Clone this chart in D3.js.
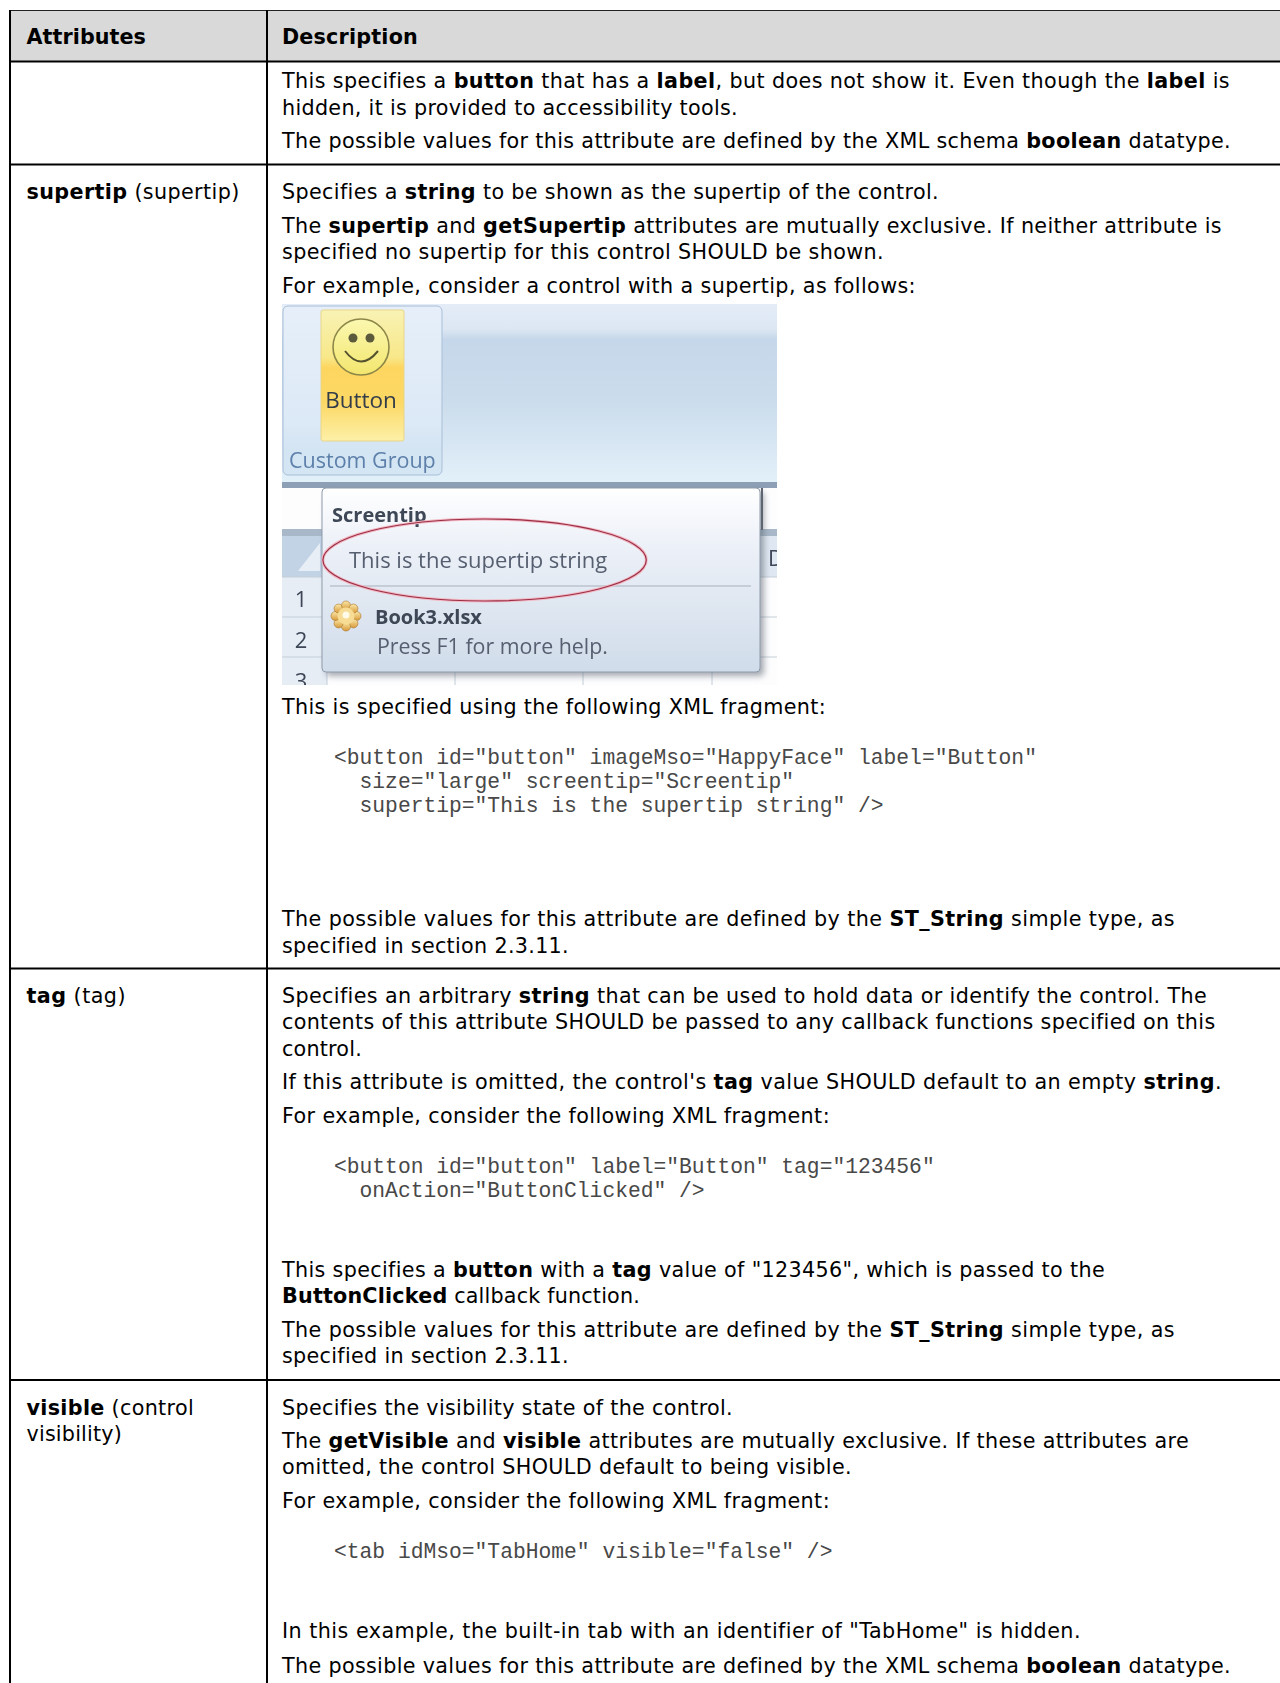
<!DOCTYPE html>
<html>
<head>
<meta charset="utf-8">
<title>Attributes table</title>
<script src="https://cdn.jsdelivr.net/npm/d3@7/dist/d3.min.js"></script>
<style>
  html, body { margin: 0; background: #fff; }
  svg { display: block; }
  text { white-space: pre; }
</style>
</head>
<body>
<div id="page"></div>
<script>
// table text, **x** means bold
const headers = ["**Attributes**", "**Description**"];
const attributeLines = [
  "**supertip** (supertip)",
  "**tag** (tag)",
  "**visible** (control",
  "visibility)"
];
const descriptionLines = [
  "This specifies a **button** that has a **label**, but does not show it. Even though the **label** is",
  "hidden, it is provided to accessibility tools.",
  "The possible values for this attribute are defined by the XML schema **boolean** datatype.",
  "Specifies a **string** to be shown as the supertip of the control.",
  "The **supertip** and **getSupertip** attributes are mutually exclusive. If neither attribute is",
  "specified no supertip for this control SHOULD be shown.",
  "For example, consider a control with a supertip, as follows:",
  "This is specified using the following XML fragment:",
  "The possible values for this attribute are defined by the **ST_String** simple type, as",
  "specified in section 2.3.11.",
  "Specifies an arbitrary **string** that can be used to hold data or identify the control. The",
  "contents of this attribute SHOULD be passed to any callback functions specified on this",
  "control.",
  "If this attribute is omitted, the control's **tag** value SHOULD default to an empty **string**.",
  "For example, consider the following XML fragment:",
  "This specifies a **button** with a **tag** value of \"123456\", which is passed to the",
  "**ButtonClicked** callback function.",
  "The possible values for this attribute are defined by the **ST_String** simple type, as",
  "specified in section 2.3.11.",
  "Specifies the visibility state of the control.",
  "The **getVisible** and **visible** attributes are mutually exclusive. If these attributes are",
  "omitted, the control SHOULD default to being visible.",
  "For example, consider the following XML fragment:",
  "In this example, the built-in tab with an identifier of \"TabHome\" is hidden.",
  "The possible values for this attribute are defined by the XML schema **boolean** datatype."
];
const codeLines = [
  "<button id=\"button\" imageMso=\"HappyFace\" label=\"Button\"",
  "  size=\"large\" screentip=\"Screentip\"",
  "  supertip=\"This is the supertip string\" />",
  "<button id=\"button\" label=\"Button\" tag=\"123456\"",
  "  onAction=\"ButtonClicked\" />",
  "<tab idMso=\"TabHome\" visible=\"false\" />"
];

// layout, kept apart from the text
const headerBase = [44, 44];
const headerEnd = [146, 418];
const attributeBase = [199, 1003, 1415, 1441];
const attributeEnd = [239.6, 126, 194, 122];
const descriptionBase = [88, 115, 148, 199, 233, 259, 293, 714, 926, 953, 1003, 1029, 1056, 1089, 1123, 1277, 1303, 1337, 1363, 1415, 1448, 1474, 1508, 1638, 1673];
const descriptionEnd = [1230, 738, 1231, 939, 1222, 884, 916, 826, 1175, 569, 1207, 1215.5, 362, 1222, 830, 1105, 640, 1175, 569, 733, 1189, 852, 830, 1081, 1231];
const codeBase = [764, 788, 812, 1173, 1197, 1558];
const rowRules = [61.5, 164.5, 968.5, 1380];

const width = 1280, height = 1683;
const leftX = 26.5, rightX = 282, codeX = 334;
const bodyFont = "'DejaVu Sans', Verdana, sans-serif";
const monoFont = "'Liberation Mono', monospace";

const svg = d3.select("#page").append("svg")
  .attr("width", width)
  .attr("height", height)
  .attr("viewBox", `0 0 ${width} ${height}`);

const defs = svg.append("defs");

function gradient(id, stops) {
  const g = defs.append("linearGradient").attr("id", id)
    .attr("x1", 0).attr("y1", 0).attr("x2", 0).attr("y2", 1);
  stops.forEach(s => g.append("stop").attr("offset", s[0]).attr("stop-color", s[1]));
}

// header band and rules
svg.append("rect").attr("x", 11).attr("y", 11).attr("width", width - 11).attr("height", 50).attr("fill", "#d9d9d9");

svg.append("line").attr("x1", 9).attr("x2", width).attr("y1", 10.5).attr("y2", 10.5)
  .attr("stroke", "#222").attr("stroke-width", 1);

svg.selectAll(".rule").data(rowRules).enter().append("line")
  .attr("class", "rule")
  .attr("x1", 10).attr("x2", width)
  .attr("y1", d => d).attr("y2", d => d)
  .attr("stroke", "#000").attr("stroke-width", 2);

svg.selectAll(".col").data([10, 267]).enter().append("line")
  .attr("class", "col")
  .attr("x1", d => d).attr("x2", d => d)
  .attr("y1", 10).attr("y2", height)
  .attr("stroke", "#000").attr("stroke-width", 2);

// splits **bold** runs into tspans, then spaces the line out to its measured end
function writeLines(group, lines, base, ends, x) {
  const y = d3.scaleOrdinal().domain(d3.range(lines.length)).range(base);
  const end = d3.scaleOrdinal().domain(d3.range(lines.length)).range(ends);
  group.selectAll("text").data(lines).enter().append("text")
    .attr("x", x)
    .attr("y", (d, i) => y(i))
    .attr("font-family", bodyFont)
    .attr("font-size", 20.7)
    .attr("fill", "#000")
    .each(function (d, i) {
      const t = d3.select(this);
      d.split("**").forEach((run, k) => {
        if (run === "") return;
        t.append("tspan").attr("font-weight", k % 2 ? "bold" : "normal").text(run);
      });
      const natural = this.getComputedTextLength();
      const chars = d.replace(/\*\*/g, "").length;
      t.attr("letter-spacing", ((end(i) - x) - natural) / chars);
    });
}

writeLines(svg.append("g"), headers.slice(0, 1), headerBase.slice(0, 1), headerEnd.slice(0, 1), leftX);
writeLines(svg.append("g"), headers.slice(1), headerBase.slice(1), headerEnd.slice(1), rightX);
writeLines(svg.append("g"), attributeLines, attributeBase, attributeEnd, leftX);
writeLines(svg.append("g"), descriptionLines, descriptionBase, descriptionEnd, rightX);

const codeY = d3.scaleOrdinal().domain(d3.range(codeLines.length)).range(codeBase);
svg.append("g").selectAll("text").data(codeLines).enter().append("text")
  .attr("x", codeX)
  .attr("y", (d, i) => codeY(i))
  .attr("font-family", monoFont)
  .attr("font-size", 21.3)
  .attr("fill", "#484848")
  .text(d => d);

// the embedded ribbon screenshot
defs.append("clipPath").attr("id", "shot").append("rect")
  .attr("x", 282).attr("y", 304).attr("width", 495).attr("height", 381);

gradient("ribbon", [[0, "#e3ecf7"], [0.14, "#dde7f3"], [0.2, "#c5d7ea"], [0.55, "#cbdcec"], [1, "#e2f0f9"]]);
gradient("group", [[0, "#e6eff9"], [0.7, "#dce9f6"], [0.86, "#d3e4f3"], [1, "#d4e6f4"]]);
gradient("btn", [[0, "#f8f2b4"], [0.36, "#f8e88a"], [0.44, "#fdd660"], [0.7, "#fcd864"], [1, "#fdf0a8"]]);
gradient("face", [[0, "#fbf8b0"], [1, "#f3e66e"]]);
gradient("tip", [[0, "#ffffff"], [0.3, "#edf1f8"], [1, "#d0dcea"]]);
gradient("gear", [[0, "#fbe8a8"], [1, "#d89a3a"]]);
defs.append("filter").attr("id", "soft").append("feGaussianBlur").attr("stdDeviation", 0.5);
defs.append("filter").attr("id", "shadow").append("feGaussianBlur").attr("stdDeviation", 3);

const shot = svg.append("g").attr("clip-path", "url(#shot)");

shot.append("rect").attr("x", 282).attr("y", 304).attr("width", 495).attr("height", 381).attr("fill", "#fdfdfe");
shot.append("rect").attr("x", 282).attr("y", 304).attr("width", 495).attr("height", 178).attr("fill", "url(#ribbon)");
shot.append("rect").attr("x", 282).attr("y", 482).attr("width", 495).attr("height", 6).attr("fill", "#8c9fb5");

// custom group panel
shot.append("rect").attr("x", 283).attr("y", 306).attr("width", 159).attr("height", 169).attr("rx", 5)
  .attr("fill", "url(#group)").attr("stroke", "#a9bfd8");
shot.append("rect").attr("x", 321).attr("y", 310).attr("width", 83).attr("height", 131).attr("rx", 2)
  .attr("fill", "url(#btn)").attr("stroke", "#e8d58a");
shot.append("circle").attr("cx", 361).attr("cy", 347).attr("r", 28)
  .attr("fill", "url(#face)").attr("stroke", "#8c8648").attr("stroke-width", 1.6);
shot.selectAll(".eye").data([353, 370]).enter().append("circle")
  .attr("class", "eye").attr("cx", d => d).attr("cy", 338).attr("r", 4.5).attr("fill", "#5c5a3c");
shot.append("path").attr("d", "M345,351 Q361,372 378,351").attr("fill", "none")
  .attr("stroke", "#55532f").attr("stroke-width", 2);

function shotText(s, x, y, size, color, weight, anchor) {
  return shot.append("text").attr("x", x).attr("y", y).text(s)
    .attr("font-family", "'Open Sans', 'Noto Sans', sans-serif")
    .attr("font-size", size).attr("fill", color)
    .attr("font-weight", weight || "normal")
    .attr("text-anchor", anchor || "start")
    .attr("filter", "url(#soft)");
}

shotText("Button", 361, 408, 22.5, "#333c4a", "normal", "middle");
shotText("Custom Group", 289, 468, 21.5, "#5d80aa");

// worksheet behind the tooltip
shot.append("rect").attr("x", 282).attr("y", 529).attr("width", 495).attr("height", 7).attr("fill", "#a9b8c8");
shot.append("rect").attr("x", 282).attr("y", 536).attr("width", 40).attr("height", 41).attr("fill", "#c2d3e6");
shot.append("path").attr("d", "M298,571 L320,543 L320,571 Z").attr("fill", "#e8eef5");
shot.append("rect").attr("x", 760).attr("y", 536).attr("width", 17).attr("height", 41).attr("fill", "#dfe8f2");
shot.append("rect").attr("x", 282).attr("y", 577).attr("width", 45).attr("height", 108).attr("fill", "#e6edf5");
shot.selectAll(".sheetrow").data([577, 617, 657]).enter().append("line")
  .attr("class", "sheetrow")
  .attr("x1", 282).attr("x2", 777).attr("y1", d => d).attr("y2", d => d)
  .attr("stroke", "#c4ced9");
shot.selectAll(".sheetcol").data([327, 455, 583, 712]).enter().append("line")
  .attr("class", "sheetcol")
  .attr("x1", d => d).attr("x2", d => d).attr("y1", 577).attr("y2", 685)
  .attr("stroke", "#c4ced9");
shotText("1", 301, 607, 22, "#3c4656", "normal", "middle");
shotText("2", 301, 648, 22, "#3c4656", "normal", "middle");
shotText("3", 301, 689, 22, "#3c4656", "normal", "middle");
shotText("D", 768, 566, 22, "#3c4656");

// tooltip
shot.append("rect").attr("x", 326).attr("y", 492).attr("width", 438).attr("height", 184).attr("rx", 4)
  .attr("fill", "#5a6470").attr("opacity", 0.55).attr("filter", "url(#shadow)");
shot.append("rect").attr("x", 322).attr("y", 488).attr("width", 438).attr("height", 184).attr("rx", 4)
  .attr("fill", "url(#tip)").attr("stroke", "#8f9bab");
shot.append("line").attr("x1", 762).attr("x2", 762).attr("y1", 488).attr("y2", 530)
  .attr("stroke", "#5d6570").attr("stroke-width", 2);

shotText("Screentip", 332, 522, 20, "#3d4655", "bold");
shotText("This is the supertip string", 349, 568, 22, "#565f70");
shot.append("line").attr("x1", 330).attr("x2", 751).attr("y1", 586).attr("y2", 586).attr("stroke", "#a7b0bc");

shot.append("g").selectAll("circle").data(d3.range(8)).enter().append("circle")
  .attr("cx", d => 346 + 10.5 * Math.cos(d * Math.PI / 4))
  .attr("cy", d => 616 + 10.5 * Math.sin(d * Math.PI / 4))
  .attr("r", 4.5).attr("fill", "url(#gear)").attr("stroke", "#a9762e").attr("stroke-width", 0.6);
shot.append("circle").attr("cx", 346).attr("cy", 616).attr("r", 8.5).attr("fill", "#f6dc94");
shot.append("circle").attr("cx", 346).attr("cy", 615).attr("r", 3.5).attr("fill", "#fffbe8");

shotText("Book3.xlsx", 375, 624, 20, "#3d4655", "bold");
shotText("Press F1 for more help.", 377, 654, 21.4, "#565f70");

// hand-drawn red ring
shot.append("ellipse").attr("cx", 484.6).attr("cy", 560).attr("rx", 161.7).attr("ry", 41)
  .attr("fill", "none").attr("stroke", "#f2b8c4").attr("stroke-width", 3);
shot.append("ellipse").attr("cx", 484.6).attr("cy", 560).attr("rx", 161.7).attr("ry", 41)
  .attr("fill", "none").attr("stroke", "#9c2f45").attr("stroke-width", 1.2);
</script>
</body>
</html>
